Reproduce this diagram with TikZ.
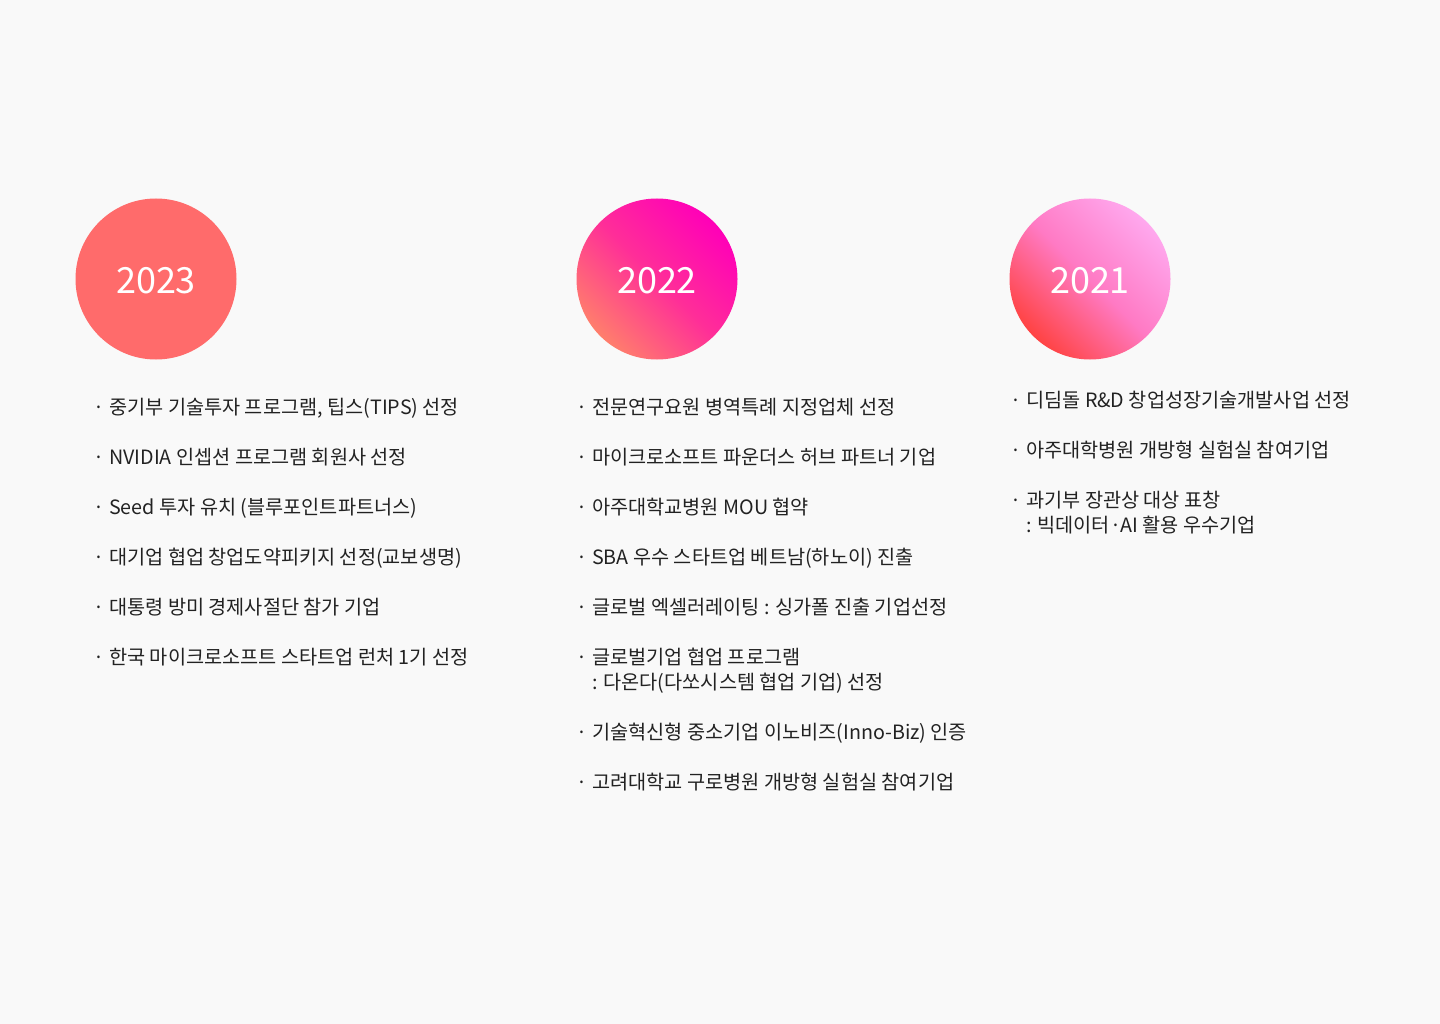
\documentclass[tikz,border=0pt]{standalone}
\usepackage{fontspec}
\setmainfont{Noto Sans CJK KR}
\definecolor{bg}{HTML}{F9F9F9}
\definecolor{txt}{HTML}{222222}
\definecolor{cA}{HTML}{FF6B6B}
\definecolor{bBL}{HTML}{FF7E6C}
\definecolor{bM}{HTML}{FF2E98}
\definecolor{bTR}{HTML}{FF00B8}
\definecolor{dBL}{HTML}{FF4343}
\definecolor{dM}{HTML}{FF7AC4}
\definecolor{dTR}{HTML}{FFA8EE}
\begin{document}
\begin{tikzpicture}[x=1pt,y=-1pt,
  yearc/.style={circle, minimum size=161pt, inner sep=0pt, text=white,
    font=\fontsize{36}{36}\selectfont},
  yeart/.style={text=white, inner sep=0pt, font=\fontsize{36}{36}\selectfont},
  item/.style={anchor=north west, inner sep=0pt, text=txt, align=left,
    font=\fontsize{19.7}{25}\selectfont}]
\fill[bg] (0,0) rectangle (1440,1024);
\useasboundingbox (0,0) rectangle (1440,1024);
\node[yearc, fill=cA] (y23) at (156,279) {};
\node[yeart] (t23) at ([yshift=-2pt]y23.center) {2023};
\node[yearc, shade, bottom color=bBL, top color=bTR, middle color=bM,
  shading angle=-45] (y22) at (657,279) {};
\node[yeart] (t22) at ([yshift=-2pt]y22.center) {2022};
\node[yearc, shade, bottom color=dBL, top color=dTR, middle color=dM,
  shading angle=-45] (y21) at (1090,279) {};
\node[yeart] (t21) at ([yshift=-2pt]y21.center) {2021};
% 2023 column
\def\bul{·\hspace{5pt}}
\def\ind{\phantom{·}\hspace{5pt}}
\node[item] (a1) at (93,398) {\bul 중기부 기술투자 프로그램, 팁스(TIPS) 선정};
\node[item] (a2) at (93,448) {\bul NVIDIA 인셉션 프로그램 회원사 선정};
\node[item] (a3) at (93,498) {\bul Seed 투자 유치 (블루포인트파트너스)};
\node[item] (a4) at (93,548) {\bul 대기업 협업 창업도약피키지 선정(교보생명)};
\node[item] (a5) at (93,598) {\bul 대통령 방미 경제사절단 참가 기업};
\node[item] (a6) at (93,648) {\bul 한국 마이크로소프트 스타트업 런처 1기 선정};
% 2022 column
\node[item] (b1) at (576,398) {\bul 전문연구요원 병역특례 지정업체 선정};
\node[item] (b2) at (576,448) {\bul 마이크로소프트 파운더스 허브 파트너 기업};
\node[item] (b3) at (576,498) {\bul 아주대학교병원 MOU 협약};
\node[item] (b4) at (576,548) {\bul SBA 우수 스타트업 베트남(하노이) 진출};
\node[item] (b5) at (576,598) {\bul 글로벌 엑셀러레이팅 : 싱가폴 진출 기업선정};
\node[item] (b6) at (576,648) {\bul 글로벌기업 협업 프로그램\\\ind : 다온다(다쏘시스템 협업 기업) 선정};
\node[item] (b7) at (576,723) {\bul 기술혁신형 중소기업 이노비즈(Inno-Biz) 인증};
\node[item] (b8) at (576,773) {\bul 고려대학교 구로병원 개방형 실험실 참여기업};
% 2021 column
\node[item] (c1) at (1010,391) {\bul 디딤돌 R\&D 창업성장기술개발사업 선정};
\node[item] (c2) at (1010,441) {\bul 아주대학병원 개방형 실험실 참여기업};
\node[item] (c3) at (1010,491) {\bul 과기부 장관상 대상 표창\\\ind : 빅데이터·AI 활용 우수기업};
\end{tikzpicture}
\end{document}
